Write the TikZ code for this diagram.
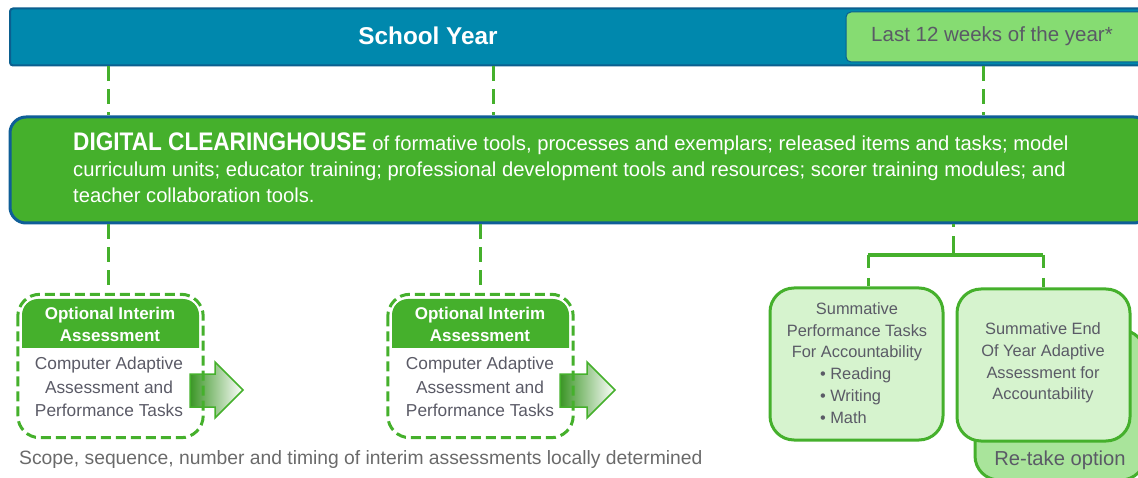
\documentclass[tikz,border=0pt]{standalone}
\usepackage{fontspec}
\setmainfont{Liberation Sans}
\newfontfamily\titlefont[FakeStretch=0.89]{Liberation Sans}
\usetikzlibrary{calc}

\definecolor{yearblue}{HTML}{0088AD}
\definecolor{yearedge}{HTML}{0B5F8F}
\definecolor{tabgreen}{HTML}{86DC72}
\definecolor{hubgreen}{HTML}{45B02C}
\definecolor{hubedge}{HTML}{0F5E97}
\definecolor{palegreen}{HTML}{D6F3CE}
\definecolor{retakegreen}{HTML}{A9E49B}
\definecolor{inkgray}{HTML}{5A5A66}
\definecolor{notegray}{HTML}{6A6A6A}

% \setfs{size}{leading}
\newcommand{\setfs}[2]{\fontsize{#1}{#2}\selectfont}

\tikzset{
  yearbar/.style={draw=yearedge, fill=yearblue, line width=2pt, rounded corners=3pt,
    minimum width=1140pt, minimum height=57pt, inner sep=0pt},
  tab/.style={draw=yearedge, fill=tabgreen, line width=1pt, rounded corners=5pt,
    minimum width=304pt, minimum height=50pt, inner sep=0pt},
  hub/.style={draw=hubedge, fill=hubgreen, line width=3pt, rounded corners=16pt,
    minimum width=1140pt, minimum height=106pt, inner sep=0pt},
  interim/.style={minimum width=185pt, minimum height=143pt, inner sep=0pt},
  interimedge/.style={draw=hubgreen, line width=3pt, dash pattern=on 10pt off 5pt, rounded corners=22pt},
  sumbox/.style={draw=hubgreen, fill=palegreen, line width=3pt, rounded corners=24pt,
    minimum width=173pt, minimum height=152pt, inner sep=0pt},
  retake/.style={draw=hubgreen, fill=retakegreen, line width=3pt, rounded corners=24pt,
    minimum width=170pt, minimum height=150pt, inner sep=0pt},
  vdash/.style={draw=hubgreen, line width=3pt, dash pattern=on 15pt off 8pt},
  bracket/.style={draw=hubgreen, line width=3.5pt},
  blockarrow/.style={draw=hubgreen, line width=1.5pt, left color=hubgreen!85!black, right color=white},
  boxtext/.style={text=inkgray, align=center, inner sep=0pt},
  hdrtext/.style={text=white, align=center, inner sep=0pt, font=\bfseries\setfs{17}{22}},
}

\begin{document}
\begin{tikzpicture}[x=1pt, y=-1pt]
\useasboundingbox (0,0) rectangle (1138,478);
\clip (0,0) rectangle (1138,478);

% School year bar with the final-weeks tab
\node[yearbar] (year) at (580,37) {};
\node[text=white, font=\bfseries\setfs{24.3}{28}, inner sep=0pt] (yearlbl) at (428,36) {School Year};
\node[tab] (last) at (998,37) {};
\node[text=inkgray, font=\setfs{20.5}{24}, inner sep=0pt] (lastlbl) at (992,36) {Last 12 weeks of the year*};

% Digital clearinghouse band
\node[hub] (hub) at (580,170) {};
\node[anchor=north west, align=left, text=white, inner sep=0pt, font=\setfs{20.2}{26}] (hubtxt) at (73,133)
  {{\titlefont\bfseries\fontsize{25.4}{26}\selectfont DIGITAL CLEARINGHOUSE} of formative tools, processes and exemplars; released items and tasks; model\\
   curriculum units; educator training; professional development tools and resources; scorer training modules; and\\
   teacher collaboration tools.};

% timeline drop lines
\coordinate (c1) at (108,0);
\coordinate (c2) at (493,0);
\coordinate (c3) at (983,0);
\draw[vdash] (year.south -| c1) -- (hub.north -| c1);
\draw[vdash] (year.south -| c2) -- (hub.north -| c2);
\draw[vdash] (year.south -| c3) -- (hub.north -| c3);

% interim assessment 1
\node[interim] (int1) at (110.5,366) {};
\fill[hubgreen] (22,348) [rounded corners=16pt] -- (22,299) -- (199,299) [sharp corners] -- (199,348) -- cycle;
\node[hdrtext] (int1hdr) at (110,324) {Optional Interim\\Assessment};
\node[boxtext, font=\setfs{17.3}{23.5}] (int1body) at (109,387) {Computer Adaptive\\Assessment and\\Performance Tasks};
\draw[blockarrow] (190,374) -- (215,374) -- (215,362) -- (243,390) -- (215,418) -- (215,407) -- (190,407) -- cycle;
\draw[interimedge] (int1.north west) rectangle (int1.south east);

% interim assessment 2
\node[interim] (int2) at (480.5,366) {};
\fill[hubgreen] (392,348) [rounded corners=16pt] -- (392,299) -- (569,299) [sharp corners] -- (569,348) -- cycle;
\node[hdrtext] (int2hdr) at (480,324) {Optional Interim\\Assessment};
\node[boxtext, font=\setfs{17.3}{23.5}] (int2body) at (480,387) {Computer Adaptive\\Assessment and\\Performance Tasks};
\draw[blockarrow] (560,374) -- (587,374) -- (587,362) -- (615,390) -- (587,418) -- (587,407) -- (560,407) -- cycle;
\draw[interimedge] (int2.north west) rectangle (int2.south east);

\coordinate (c5) at (108,0);
\coordinate (c6) at (480,0);
\draw[vdash] (hub.south -| c5) -- (int1.north -| c5);
\draw[vdash] (hub.south -| c6) -- (int2.north -| c6);

\node[anchor=west, text=notegray, font=\setfs{19.3}{22}, inner sep=0pt] (note) at (19,460)
  {Scope, sequence, number and timing of interim assessments locally determined};

% summative assessments
\node[retake] (retake) at (1060,405) {};
\node[text=inkgray, font=\setfs{20.2}{24}, inner sep=0pt] (retakelbl) at (1060,460) {Re-take option};
\node[sumbox] (sumpt) at (856.5,364) {};
\node[sumbox] (sumeoy) at (1043.5,365) {};
\node[boxtext, font=\setfs{16.4}{21.8}] (sumpttxt) at (857,363)
  {Summative\\Performance Tasks\\For Accountability\\
   \makebox[74pt][l]{\textbullet\ Reading}\\\makebox[74pt][l]{\textbullet\ Writing}\\\makebox[74pt][l]{\textbullet\ Math}};
\node[boxtext, font=\setfs{16.4}{21.8}] (sumeoytxt) at (1043,363)
  {Summative End\\Of Year Adaptive\\Assessment for\\Accountability};

% fork from the clearinghouse to both summative boxes
\coordinate (fork) at (953,255);
\coordinate (b1) at (868,255);
\coordinate (b2) at (1043,255);
\draw[vdash, dash pattern=on 3pt off 9pt on 20pt] (hub.south -| fork) -- (fork);
\draw[bracket] (b1) -- (b2);
\draw[vdash, dash pattern=on 13pt off 10pt on 12pt] (b1) -- (b1 |- sumpt.north);
\draw[vdash, dash pattern=on 13pt off 10pt on 12pt] (b2) -- (b2 |- sumeoy.north);
\end{tikzpicture}
\end{document}
